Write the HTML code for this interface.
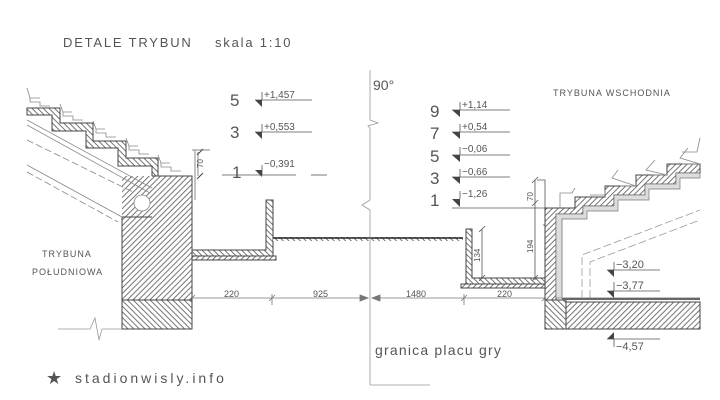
<!DOCTYPE html>
<html><head><meta charset="utf-8"><style>
html,body{margin:0;padding:0;background:#fff;}
svg{display:block;}
text{font-family:"Liberation Sans","DejaVu Sans",sans-serif;fill:#555;}
</style></head><body>
<svg width="720" height="400" viewBox="0 0 720 400" xmlns="http://www.w3.org/2000/svg">
<defs>
<pattern id="h1" width="4" height="4" patternUnits="userSpaceOnUse" patternTransform="rotate(45)">
<rect width="4" height="4" fill="#fff"/><line x1="2" y1="-1" x2="2" y2="5" stroke="#666" stroke-width="0.9"/></pattern>
<pattern id="h2" width="4" height="4" patternUnits="userSpaceOnUse" patternTransform="rotate(-45)">
<rect width="4" height="4" fill="#fff"/><line x1="2" y1="-1" x2="2" y2="5" stroke="#666" stroke-width="0.9"/></pattern>
</defs>
<g fill="none" stroke="#444" stroke-width="1">
<text x="63" y="47" font-size="13" letter-spacing="1.8" stroke="none" fill="#666">DETALE  TRYBUN</text>
<text x="215" y="47" font-size="13" letter-spacing="1.8" stroke="none" fill="#666">skala  1:10</text>

<!-- left stairs band -->
<path d="M27,108 L60,108 L60,123 L93,123 L93,141 L126,141 L126,158 L158,158 L158,176 L192,176 L192,218 L152,218 L152,166 L118,166 L118,148 L86,148 L86,131 L52,131 L52,115 L27,115 Z" fill="url(#h2)"/>
<rect x="122" y="176" width="70" height="124" fill="url(#h1)" stroke="none"/>
<rect x="152" y="176" width="40" height="42" fill="url(#h1)" stroke="none"/>
<path d="M152,176 L192,176 L192,329 L122,329 L122,217 L152,217"/>
<rect x="122" y="300" width="70" height="29" fill="url(#h2)"/>
<line x1="122" y1="300" x2="192" y2="300" stroke-dasharray="2,1"/>
<!-- beams -->
<g stroke="#888" stroke-width="0.8">
<line x1="27" y1="120" x2="152" y2="188"/>
<line x1="27" y1="125" x2="150" y2="193"/>
<line x1="27" y1="140" x2="133" y2="192" stroke-dasharray="7,3"/>
<line x1="27" y1="165" x2="122" y2="217"/>
<line x1="27" y1="172" x2="118" y2="222" stroke-dasharray="7,3"/>
<circle cx="142" cy="203" r="8" fill="#fff"/>
</g>
<!-- seats left -->
<g stroke="#888" stroke-width="0.8">
<path d="M27,88 L30,98 L40,98 M30,98 L30,102 L40,102 L40,106 L50,106"/>
<path d="M60,104 L63,112 L72,112 M63,112 L63,116 L73,116 L73,120 L83,120"/>
<path d="M93,121 L96,129 L105,129 M96,129 L96,133 L106,133 L106,137 L116,137"/>
<path d="M126,138 L129,146 L138,146 M129,146 L129,150 L139,150 L139,154 L149,154"/>
<path d="M158,155 L161,163 L170,163 M161,163 L161,167 L171,167 L171,171 L181,171"/>
</g>
<!-- 70 dim left -->
<path d="M192,150 L210,150 M195,150 L195,200 M198,152 L198,176" stroke="#888"/>
<text x="203" y="168" font-size="8" transform="rotate(-90 203 168)" stroke="none">70</text>
<line x1="197" y1="155" x2="203" y2="149"/><line x1="197" y1="179" x2="203" y2="173"/>

<text x="42" y="257" font-size="9" letter-spacing="1" stroke="none">TRYBUNA</text>
<text x="32" y="275" font-size="9" letter-spacing="1" stroke="none">POŁUDNIOWA</text>
<path d="M58,329 L90,329 L95,318 L99,340 L102,329 L122,329" stroke="#999" stroke-width="0.8"/>

<!-- slab left -->
<path d="M192,250 L266,250 L266,200 L273,200 L273,256 L192,256 Z" fill="url(#h2)"/>
<rect x="192" y="256" width="84" height="4" fill="url(#h1)"/>
<!-- ground -->
<rect x="273" y="237" width="190" height="4" fill="url(#h2)" stroke="none"/>
<line x1="273" y1="238" x2="463" y2="238" stroke="#222" stroke-width="1.5"/>

<!-- center line -->
<path d="M370,70 L370,120 L378,123 L368,126 L370,128 L370,200 L362,205 L370,210 L370,385 M370,385 L430,385" stroke="#999" stroke-width="0.8"/>
<text x="373" y="90" font-size="14" stroke="none" fill="#777">90°</text>
<text x="375" y="355" font-size="14" letter-spacing="1.2" stroke="none" fill="#777">granica placu gry</text>

<!-- dimension line -->
<g stroke="#777" stroke-width="0.8">
<line x1="192" y1="298" x2="368" y2="298"/>
<line x1="372" y1="298" x2="545" y2="298"/>
<line x1="272" y1="294" x2="272" y2="305"/>
<line x1="464" y1="294" x2="464" y2="305"/>
<path d="M368,298 L360,295 L360,301 Z" fill="#777"/>
<path d="M372,298 L380,295 L380,301 Z" fill="#777"/>
<line x1="189" y1="301" x2="195" y2="295"/><line x1="269" y1="301" x2="275" y2="295"/>
<line x1="461" y1="301" x2="467" y2="295"/><line x1="542" y1="301" x2="548" y2="295"/>
</g>
<g font-size="9" stroke="none">
<text x="224" y="297">220</text><text x="313" y="297">925</text>
<text x="406" y="297">1480</text><text x="497" y="297">220</text>
</g>

<!-- left levels -->
<g stroke="#555" stroke-width="0.8">
<line x1="255" y1="100" x2="312" y2="100"/><line x1="262" y1="92" x2="262" y2="100"/>
<line x1="255" y1="132" x2="312" y2="132"/><line x1="262" y1="124" x2="262" y2="132"/>
<line x1="222" y1="175" x2="296" y2="175"/><line x1="262" y1="165" x2="262" y2="175"/>
<line x1="311" y1="175" x2="327" y2="175"/>
</g>
<path d="M255,100 L262,100 L262,107 Z M255,132 L262,132 L262,139 Z M255,170 L262,170 L262,177 Z" fill="#444" stroke="none"/>
<g stroke="none">
<text x="230" y="106" font-size="17" fill="#999">5</text>
<text x="230" y="138" font-size="17" fill="#999">3</text>
<text x="232" y="178" font-size="17" fill="#999">1</text>
<text x="264" y="98" font-size="10">+1,457</text>
<text x="264" y="130" font-size="10">+0,553</text>
<text x="264" y="167" font-size="10">−0,391</text>
</g>

<!-- right levels -->
<g stroke="#555" stroke-width="0.8">
<line x1="452" y1="110" x2="510" y2="110"/><line x1="460" y1="102" x2="460" y2="110"/>
<line x1="452" y1="132" x2="510" y2="132"/><line x1="460" y1="124" x2="460" y2="132"/>
<line x1="452" y1="155" x2="510" y2="155"/><line x1="460" y1="147" x2="460" y2="155"/>
<line x1="452" y1="177" x2="510" y2="177"/><line x1="460" y1="169" x2="460" y2="177"/>
<line x1="452" y1="208" x2="545" y2="208"/><line x1="460" y1="191" x2="460" y2="199"/>
</g>
<path d="M452,110 L460,110 L460,117 Z M452,132 L460,132 L460,139 Z M452,155 L460,155 L460,162 Z M452,177 L460,177 L460,184 Z M452,199 L460,199 L460,207 Z" fill="#444" stroke="none"/>
<g stroke="none">
<text x="430" y="117" font-size="17" fill="#999">9</text>
<text x="430" y="139" font-size="17" fill="#999">7</text>
<text x="430" y="162" font-size="17" fill="#999">5</text>
<text x="430" y="184" font-size="17" fill="#999">3</text>
<text x="430" y="206" font-size="17" fill="#999">1</text>
<text x="462" y="108" font-size="10">+1,14</text>
<text x="462" y="130" font-size="10">+0,54</text>
<text x="462" y="152" font-size="10">−0,06</text>
<text x="462" y="175" font-size="10">−0,66</text>
<text x="462" y="197" font-size="10">−1,26</text>
<text x="553" y="96" font-size="9" letter-spacing="1">TRYBUNA WSCHODNIA</text>
</g>

<!-- right channel -->
<path d="M466,229 L472,229 L472,278 L545,278 L545,284 L466,284 Z" fill="url(#h2)"/>
<rect x="461" y="284" width="86" height="4" fill="url(#h1)"/>
<g stroke="#555" stroke-width="0.8">
<line x1="482" y1="229" x2="482" y2="279"/>
<line x1="479" y1="232" x2="485" y2="226"/><line x1="479" y1="281" x2="485" y2="275"/>
<line x1="535" y1="180" x2="535" y2="280"/>
<line x1="532" y1="183" x2="538" y2="177"/><line x1="532" y1="206" x2="538" y2="200"/><line x1="532" y1="281" x2="538" y2="275"/>
<path d="M537,180 L545,180 L545,225 L543,225"/>
</g>
<g font-size="8" stroke="none">
<text x="480" y="262" transform="rotate(-90 480 262)">134</text>
<text x="533" y="253" transform="rotate(-90 533 253)">194</text>
<text x="533" y="201" transform="rotate(-90 533 201)">70</text>
</g>

<!-- right wall & stairs -->
<path d="M545,208 L575,208 L575,197 L605,197 L605,186 L636,186 L636,175 L667,175 L667,164 L700,164 L700,173 L676,173 L676,184 L645,184 L645,195 L614,195 L614,206 L583,206 L583,214 L556,214 L556,300 L545,300 Z" fill="url(#h1)"/>
<path d="M556,214 L583,214 L583,206 L614,206 L614,195 L645,195 L645,184 L676,184 L676,173 L700,173 L700,178 L680,178 L680,189 L649,189 L649,200 L618,200 L618,211 L587,211 L587,219 L562,219 L562,298 L556,298 Z" fill="#ddd" stroke="#777" stroke-width="0.7"/>
<path d="M562,219 L562,298 L700,298" stroke="#888"/>
<rect x="545" y="300" width="21" height="29" fill="url(#h2)"/>
<rect x="566" y="302" width="134" height="27" fill="url(#h1)"/>
<line x1="562" y1="299" x2="700" y2="299" stroke="#666" stroke-width="2"/>
<!-- seats right -->
<g stroke="#888" stroke-width="0.8">
<path d="M560,208 L560,193 L572,193 L575,188"/>
<path d="M590,195 L605,195 L605,190"/>
<path d="M620,186 L636,186 L612,178 L618,170"/>
<path d="M652,175 L667,175 L646,170 L655,160"/>
<path d="M682,164 L700,164 L680,158 L688,148"/>
<path d="M682,152 L697,152 L700,138"/>
</g>
<path d="M582,298 L582,255 L700,210 M590,298 L590,262 L700,220" stroke="#999" stroke-width="0.8" stroke-dasharray="8,3"/>

<!-- right lower levels -->
<g stroke="#555" stroke-width="0.8">
<line x1="607" y1="270" x2="660" y2="270"/><line x1="614" y1="262" x2="614" y2="270"/>
<line x1="607" y1="291" x2="660" y2="291"/><line x1="614" y1="282" x2="614" y2="291"/>
<line x1="607" y1="339" x2="660" y2="339"/><line x1="614" y1="339" x2="614" y2="347"/>
</g>
<path d="M607,270 L614,270 L614,277 Z M607,291 L614,291 L614,298 Z M607,339 L614,332 L614,339 Z" fill="#444" stroke="none"/>
<g stroke="none" font-size="11">
<text x="616" y="268">−3,20</text>
<text x="616" y="289">−3,77</text>
<text x="616" y="350">−4,57</text>
</g>

<!-- footer -->
<text x="46" y="384" font-size="18" fill="#aaa" stroke="none">★</text>
<text x="75" y="383" font-size="14" letter-spacing="3" fill="#666" stroke="none">stadionwisly.info</text>
</g>
</svg>
</body></html>
